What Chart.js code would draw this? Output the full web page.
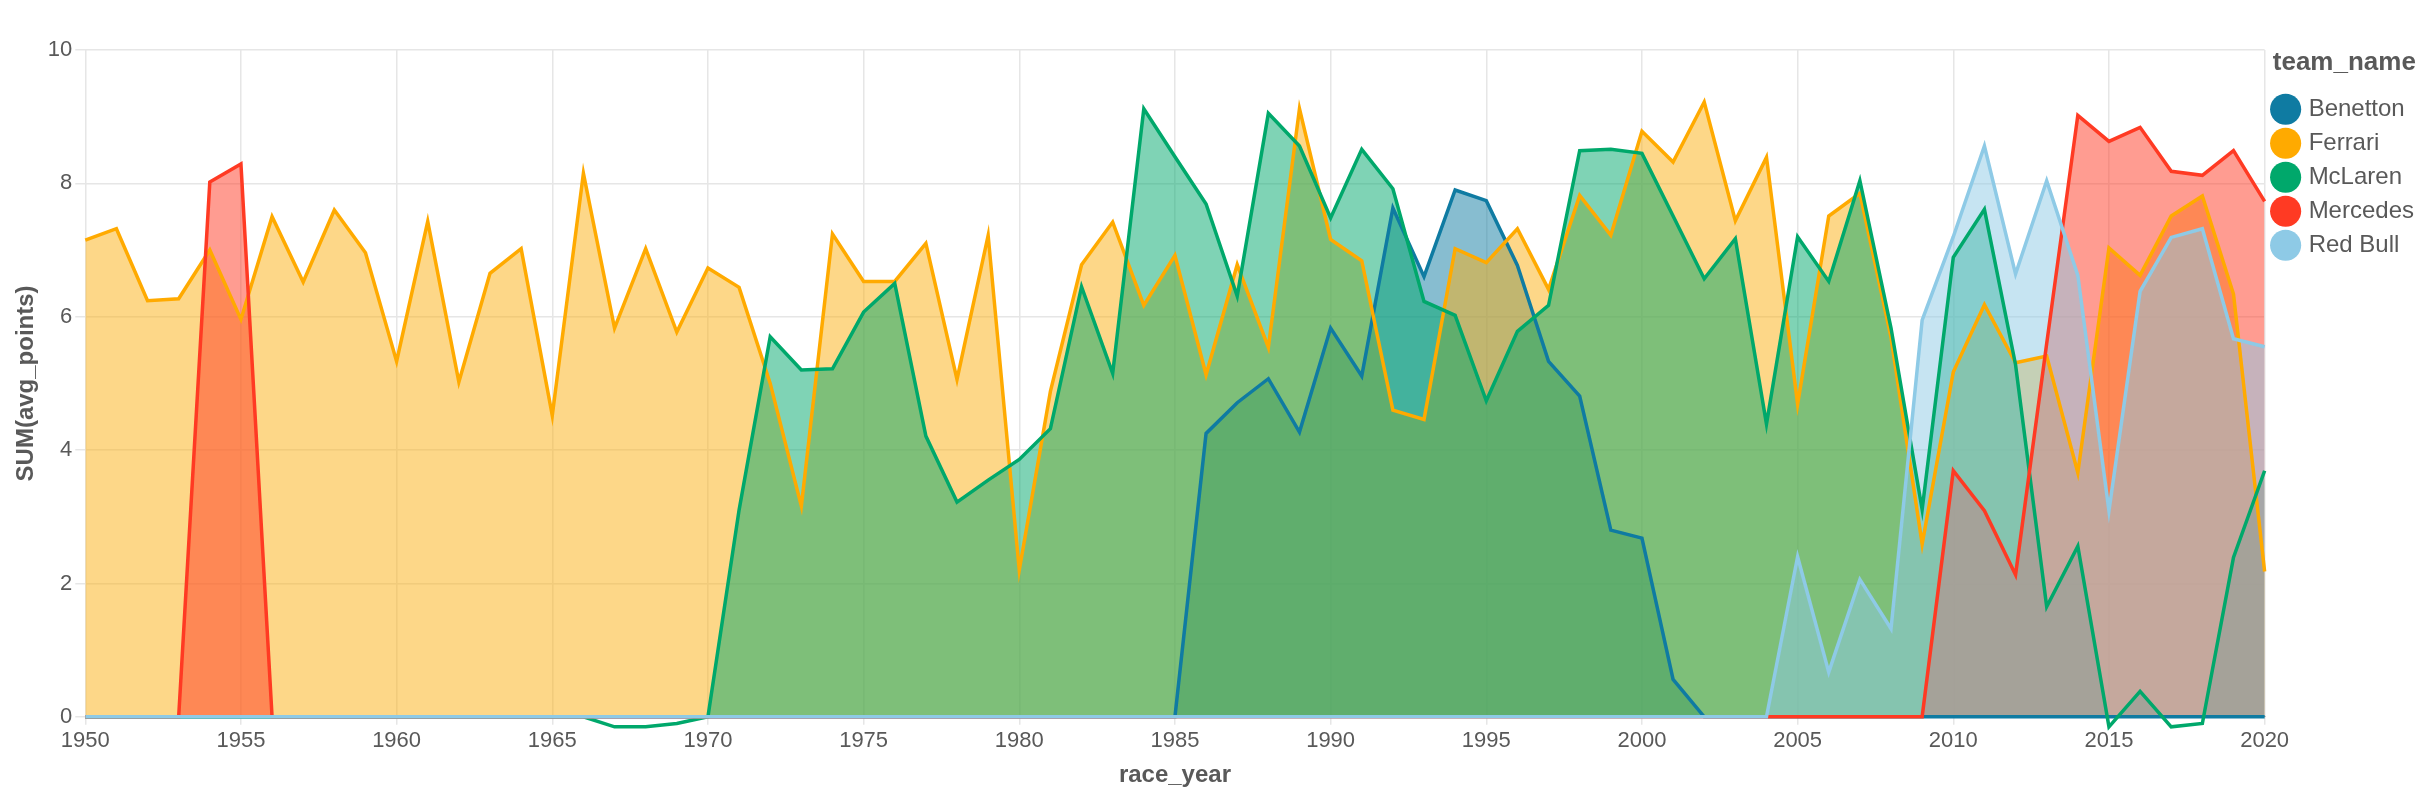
<!DOCTYPE html>
<html>
<head>
<meta charset="utf-8">
<script src="https://cdn.jsdelivr.net/npm/chart.js@4/dist/chart.umd.min.js"></script>
<style>
  html, body { margin: 0; padding: 0; background: #fff; }
  #wrap { width: 2434px; height: 800px; }
</style>
</head>
<body>
<div id="wrap"><canvas id="chart" width="2434" height="800"></canvas></div>
<script>
// years 1950..2020
const years = [];
for (let y = 1950; y <= 2020; y++) years.push(y);

const teams = ['Benetton', 'Ferrari', 'McLaren', 'Mercedes', 'Red Bull'];

// values per year, 1950..2020
const benetton = [
  0,0,0,0,0,0,0,0,0,0,          // 1950-59
  0,0,0,0,0,0,0,0,0,0,          // 1960-69
  0,0,0,0,0,0,0,0,0,0,          // 1970-79
  0,0,0,0,0,0,4.25,4.71,5.07,4.27, // 1980-89
  5.83,5.11,7.63,6.6,7.9,7.74,6.77,5.33,4.81,2.8, // 1990-99
  2.68,0.56,0,0,0,0,0,0,0,0,    // 2000-09
  0,0,0,0,0,0,0,0,0,0,0         // 2010-20
];
const ferrari = [
  7.15,7.32,6.24,6.27,7.0,5.96,7.5,6.52,7.6,6.96,
  5.33,7.43,5.02,6.65,7.02,4.52,8.15,5.83,7.02,5.77,
  6.73,6.44,5.0,3.16,7.24,6.53,6.53,7.1,5.06,7.22,
  2.2,4.88,6.78,7.42,6.17,6.92,5.13,6.78,5.54,9.12,
  7.16,6.84,4.6,4.46,7.02,6.81,7.32,6.41,7.82,7.22,
  8.78,8.32,9.22,7.44,8.39,4.69,7.51,7.85,5.69,2.59,
  5.17,6.18,5.31,5.41,3.66,7.03,6.62,7.51,7.81,6.34,2.18
];
const mclaren = [
  0,0,0,0,0,0,0,0,0,0,
  0,0,0,0,0,0,0,-0.15,-0.15,-0.1,
  0,3.1,5.7,5.2,5.22,6.07,6.5,4.21,3.22,3.55,
  3.86,4.32,6.45,5.15,9.12,8.4,7.69,6.31,9.05,8.56,
  7.48,8.51,7.92,6.23,6.02,4.74,5.78,6.17,8.49,8.51,
  8.45,7.51,6.57,7.17,4.39,7.2,6.53,8.04,5.83,3.11,
  6.89,7.61,5.28,1.65,2.56,-0.15,0.38,-0.15,-0.1,2.39,3.69
];
const mercedes = [
  0,0,0,0,8.02,8.29,0,0,0,0,
  0,0,0,0,0,0,0,0,0,0,
  0,0,0,0,0,0,0,0,0,0,
  0,0,0,0,0,0,0,0,0,0,
  0,0,0,0,0,0,0,0,0,0,
  0,0,0,0,0,0,0,0,0,0,
  3.69,3.09,2.13,5.6,9.02,8.63,8.84,8.18,8.12,8.49,7.73
];
const redbull = [
  0,0,0,0,0,0,0,0,0,0,
  0,0,0,0,0,0,0,0,0,0,
  0,0,0,0,0,0,0,0,0,0,
  0,0,0,0,0,0,0,0,0,0,
  0,0,0,0,0,0,0,0,0,0,
  0,0,0,0,0,2.4,0.67,2.06,1.32,5.95,
  7.2,8.56,6.64,8.04,6.62,3.09,6.38,7.19,7.32,5.67,5.55
];

const lineColors = ['#0f7ba2', '#ffaa00', '#00a86b', '#ff3a23', '#8ecae6'];
const fillColors = ['rgba(15,123,162,0.5)', 'rgba(251,176,18,0.5)', 'rgba(0,168,107,0.5)',
                    'rgba(255,58,35,0.5)', 'rgba(142,202,230,0.5)'];
const series = [benetton, ferrari, mclaren, mercedes, redbull];

const textColor = '#595959';
const datasets = teams.map((name, i) => ({
  label: name,
  data: years.map((yr, j) => ({ x: yr, y: series[i][j] })),
  borderColor: lineColors[i],
  backgroundColor: fillColors[i],
  borderWidth: 3.5,
  pointRadius: 0,
  tension: 0,
  fill: 'origin',
  clip: false,
  order: 5 - i
}));

new Chart(document.getElementById('chart'), {
  type: 'line',
  data: { datasets },
  options: {
    responsive: false,
    animation: false,
    layout: { padding: { left: 8, right: 10, top: 50, bottom: 6 } },
    plugins: {
      filler: { drawTime: 'beforeDatasetsDraw' },
      tooltip: { enabled: false },
      legend: {
        position: 'right',
        align: 'start',
        reverse: true,
        title: {
          display: true,
          text: 'team_name',
          color: textColor,
          font: { family: 'Liberation Sans, Arial', size: 26, weight: 'bold' },
          padding: { top: 0, bottom: 6 }
        },
        labels: {
          usePointStyle: true,
          pointStyle: 'circle',
          boxWidth: 22,
          boxHeight: 22,
          padding: 10,
          color: textColor,
          font: { family: 'Liberation Sans, Arial', size: 24 },
          generateLabels: chart => chart.data.datasets.map((ds, i) => ({
            text: ds.label,
            fillStyle: lineColors[i],
            strokeStyle: lineColors[i],
            lineWidth: 0,
            pointStyle: 'circle',
            fontColor: textColor,
            datasetIndex: i
          })),
          sort: (a, b) => b.datasetIndex - a.datasetIndex
        }
      }
    },
    scales: {
      x: {
        type: 'linear',
        min: 1950,
        max: 2020,
        ticks: {
          stepSize: 5,
          color: textColor,
          font: { family: 'Liberation Sans, Arial', size: 22 },
          callback: v => String(v)
        },
        grid: { color: '#e6e6e6', lineWidth: 1.5, tickLength: 8 },
        border: { color: '#888' },
        title: {
          display: true, text: 'race_year', color: textColor,
          font: { family: 'Liberation Sans, Arial', size: 24, weight: 'bold' }
        }
      },
      y: {
        min: 0,
        max: 10,
        ticks: {
          stepSize: 2,
          color: textColor,
          font: { family: 'Liberation Sans, Arial', size: 22 }
        },
        grid: { color: '#e6e6e6', lineWidth: 1.5, tickLength: 10 },
        border: { display: false },
        title: {
          display: true, text: 'SUM(avg_points)', color: textColor,
          font: { family: 'Liberation Sans, Arial', size: 24, weight: 'bold' }
        }
      }
    }
  }
});
</script>
</body>
</html>
